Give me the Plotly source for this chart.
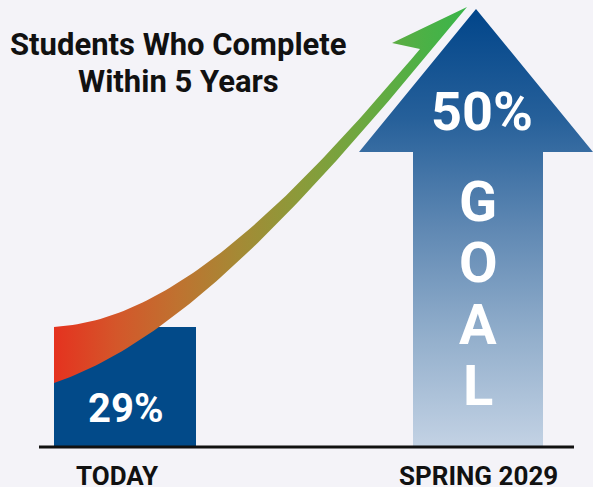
import numpy as np
import plotly.graph_objects as go

W, H = 593, 487

# ---- data ----
categories = ["TODAY", "SPRING 2029"]
values = [29, 50]
value_labels = [f"{v}%" for v in values]
goal_letters = ["G", "O", "A", "L"]
title_lines = ["Students Who Complete", "Within 5 Years"]

# ---- geometry (pixel coords, y measured from top) ----
bar_left = dict(x0=54, x1=196, top=327, base=447)
arrow_pts = [(413, 447), (413, 152), (359, 152), (476, 9), (593, 152), (543, 152), (543, 447)]
# outline of the curved growth arrow (traced edges)
curve_upper = [(54, 327), (78, 325), (100, 321), (133, 308), (167, 290), (200, 267), (233, 240),
               (267, 213), (300, 183), (333, 148), (367, 112), (400, 73), (420, 49)]
curve_head = [(392, 43), (467, 7)]
curve_lower = [(467, 7), (430, 53), (417, 69), (383, 108), (350, 147), (317, 183), (283, 215),
               (250, 249), (217, 279), (183, 306), (160, 326), (135, 345), (113, 359), (95, 369),
               (75, 378), (54, 383)]

FONT = "Roboto"


def fy(y):
    return H - y


def fitted_edge(points, x_from, x_to, n=80, deg=3):
    """Smooth outline edge of a decorative shape through traced points."""
    xs = np.array([p[0] for p in points], float)
    ys = np.array([p[1] for p in points], float)
    w = np.ones_like(xs)
    w[0] = w[-1] = 20.0  # pin the end points
    coef = np.polyfit(xs, ys, deg, w=w)
    xx = np.linspace(x_from, x_to, n)
    return list(zip(xx, np.polyval(coef, xx)))


fig = go.Figure()

fig.update_layout(
    width=W, height=H, margin=dict(l=0, r=0, t=0, b=0),
    paper_bgcolor="#f4f3f8", plot_bgcolor="#f4f3f8",
    showlegend=False,
    xaxis=dict(range=[0, W], visible=False, fixedrange=True),
    yaxis=dict(range=[0, H], visible=False, fixedrange=True),
)

# left bar (TODAY)
bx = [bar_left["x0"], bar_left["x1"], bar_left["x1"], bar_left["x0"], bar_left["x0"]]
by = [bar_left["base"], bar_left["base"], bar_left["top"], bar_left["top"], bar_left["base"]]
fig.add_trace(go.Scatter(x=bx, y=[fy(v) for v in by], fill="toself", mode="lines",
                         line=dict(width=0), fillcolor="#024a89", hoverinfo="skip"))

# goal arrow with vertical gradient
ax = [p[0] for p in arrow_pts] + [arrow_pts[0][0]]
ay = [fy(p[1]) for p in arrow_pts] + [fy(arrow_pts[0][1])]
fig.add_trace(go.Scatter(
    x=ax, y=ay, fill="toself", mode="lines", line=dict(width=0), hoverinfo="skip",
    fillgradient=dict(type="vertical", start=fy(447), stop=fy(9),
                      colorscale=[[0, "#c3d2e4"], [0.25, "#93afcc"], [0.5, "#5f88b3"],
                                  [0.75, "#26609a"], [1, "#01458a"]]),
))

# curved growth arrow with horizontal gradient
upper = fitted_edge(curve_upper, 54, 420)
lower = fitted_edge(curve_lower, 467, 54)
pts = upper + curve_head + lower[1:]
cx = [p[0] for p in pts] + [pts[0][0]]
cy = [fy(p[1]) for p in pts] + [fy(pts[0][1])]
fig.add_trace(go.Scatter(
    x=cx, y=cy, fill="toself", mode="lines", line=dict(width=0), hoverinfo="skip",
    fillgradient=dict(type="horizontal", start=54, stop=467,
                      colorscale=[[0, "#e5321f"], [0.15, "#d4562a"], [0.3, "#bf7230"],
                                  [0.45, "#a48a35"], [0.6, "#8a9b3a"], [0.75, "#6ca840"],
                                  [0.9, "#4bb146"], [1, "#3ab54a"]]),
))

# baseline
fig.add_shape(type="line", x0=39, x1=574, y0=fy(447), y1=fy(447),
              line=dict(color="#111111", width=3))

# title
for i, line in enumerate(title_lines):
    fig.add_annotation(x=178, y=fy(44 + 37 * i), text=f"<b>{line}</b>", showarrow=False,
                       font=dict(family=FONT, size=31, color="#111111"),
                       xanchor="center", yanchor="middle")

# category labels
cat_x = [117, 478]
for cx_, cat in zip(cat_x, categories):
    fig.add_annotation(x=cx_, y=fy(476), text=f"<b>{cat}</b>", showarrow=False,
                       font=dict(family=FONT, size=26, color="#111111"),
                       xanchor="center", yanchor="middle")

# value labels
fig.add_annotation(x=125, y=fy(408), text=f"<b>{value_labels[0]}</b>", showarrow=False,
                   font=dict(family=FONT, size=40, color="white"), xanchor="center", yanchor="middle")
fig.add_annotation(x=482, y=fy(111), text=f"<b>{value_labels[1]}</b>", showarrow=False,
                   font=dict(family=FONT, size=54, color="white"), xanchor="center", yanchor="middle")

# GOAL letters
for i, ch in enumerate(goal_letters):
    fig.add_annotation(x=478, y=fy(202 + 61.3 * i), text=f"<b>{ch}</b>", showarrow=False,
                       font=dict(family=FONT, size=56, color="white"), xanchor="center", yanchor="middle")

fig.write_html("out.html", config={"displayModeBar": False},
               post_script="document.body.style.margin='0';document.body.style.overflow='hidden';")
